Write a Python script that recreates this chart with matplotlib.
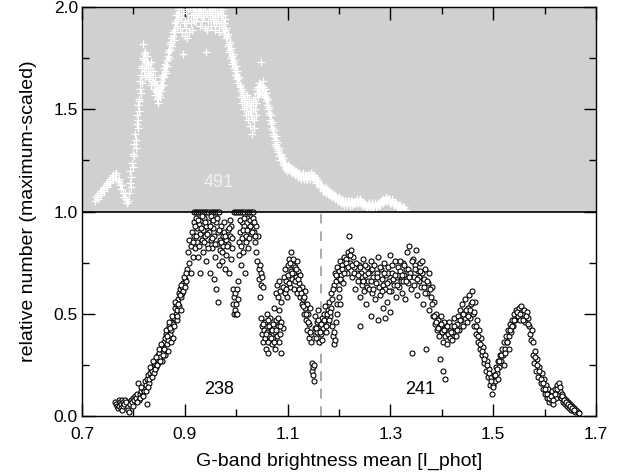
#Two stacked histograms-like point clouds in one frame: upper (shifted by 1) on gray, lower on white
import numpy as np
import matplotlib
matplotlib.use('Agg')
import matplotlib.pyplot as plt

plt.rcParams['font.family'] = ['Liberation Sans', 'DejaVu Sans']

# upper curve (white plus signs, plotted between 1 and 2)
up_bump = [(0.725,1.05),(0.728,1.07),(0.731,1.06),(0.734,1.09),(0.737,1.08),(0.740,1.11),(0.743,1.10),
           (0.746,1.13),(0.749,1.12),(0.752,1.15),(0.755,1.14),(0.758,1.17),(0.761,1.16),(0.764,1.18),
           (0.767,1.16),(0.770,1.15),(0.773,1.13),(0.776,1.11),(0.779,1.09),(0.782,1.07),(0.785,1.06),
           (0.788,1.04),(0.790,1.05)]
up_rise = [(0.791,1.09),(0.793,1.14),(0.794,1.20),(0.796,1.17),(0.797,1.24),(0.799,1.28),(0.800,1.22),
           (0.802,1.33),(0.803,1.38),(0.805,1.35),(0.806,1.43),(0.807,1.47),(0.808,1.41),(0.809,1.52),
           (0.810,1.55),(0.811,1.49),(0.812,1.60),(0.813,1.64),(0.814,1.58)]
up_shoulder = [(0.815,1.67),(0.816,1.63),(0.817,1.71),(0.818,1.75),(0.819,1.82),(0.820,1.69),(0.821,1.77),
               (0.822,1.66),(0.824,1.73),(0.825,1.70),(0.826,1.76),(0.828,1.68),(0.829,1.72),(0.830,1.65),
               (0.832,1.70),(0.833,1.67),(0.835,1.73),(0.836,1.64),(0.838,1.69),(0.839,1.60),(0.841,1.66),
               (0.842,1.57),(0.844,1.62),(0.845,1.55),(0.847,1.58),(0.848,1.53),(0.850,1.60),(0.851,1.56),
               (0.853,1.64),(0.854,1.59),(0.856,1.67),(0.857,1.62),(0.859,1.70),(0.860,1.66),(0.862,1.72),
               (0.863,1.68)]
up_peak = [(0.865,1.74),(0.866,1.71),(0.868,1.78),(0.869,1.75),(0.871,1.82),(0.872,1.79),(0.874,1.85),
           (0.875,1.81),(0.877,1.88),(0.878,1.84),(0.880,1.92),(0.881,1.88),(0.883,1.96),(0.884,1.91),
           (0.886,1.99),(0.887,1.94),(0.889,1.97),(0.890,1.90),(0.892,2.00),(0.893,1.95),(0.895,1.88),
           (0.897,1.77),(0.898,1.92),(0.900,1.86),(0.902,1.98),(0.903,1.90),(0.905,1.85),(0.907,1.94),
           (0.908,1.88),(0.910,2.00),(0.912,1.96),(0.913,1.89),(0.915,1.99),(0.917,1.93),(0.918,2.00),
           (0.920,1.97),(0.922,2.00),(0.924,1.95),(0.925,2.00),(0.927,1.98),(0.929,2.00),(0.931,1.96),
           (0.932,1.99),(0.934,1.93),(0.936,1.98),(0.938,1.95),(0.940,1.90),(0.942,1.78),(0.943,1.97),
           (0.945,1.93),(0.947,2.00),(0.949,1.96),(0.950,1.91),(0.952,1.99),(0.954,1.94),(0.956,2.00),
           (0.958,1.89),(0.959,1.97),(0.961,1.92),(0.963,2.00),(0.965,1.95),(0.967,1.88),(0.968,1.98),
           (0.970,1.93),(0.972,1.99),(0.974,1.90),(0.975,1.96),(0.977,1.87),(0.978,1.94)]
up_fall = [(0.980,1.85),(0.981,1.90),(0.983,1.81),(0.984,1.87),(0.986,1.78),(0.987,1.83),(0.989,1.75),
           (0.990,1.80),(0.992,1.72),(0.993,1.77),(0.995,1.70),(0.996,1.74),(0.998,1.67),(0.999,1.71),
           (1.001,1.65),(1.002,1.69),(1.004,1.63),(1.006,1.66),(1.008,1.61),(1.009,1.56),(1.011,1.60),
           (1.012,1.53),(1.014,1.58),(1.015,1.50),(1.017,1.55),(1.018,1.47),(1.020,1.57),(1.021,1.52),
           (1.023,1.45),(1.024,1.55),(1.026,1.49),(1.027,1.42),(1.029,1.52),(1.030,1.38),(1.031,1.46),
           (1.033,1.54),(1.034,1.41),(1.036,1.50),(1.037,1.56),(1.039,1.47),(1.040,1.58),(1.042,1.61),
           (1.043,1.56),(1.045,1.63),(1.046,1.59),(1.048,1.73),(1.049,1.62),(1.051,1.58),(1.052,1.64),
           (1.054,1.57),(1.055,1.60),(1.057,1.54),(1.058,1.58)]
up_tail = [(1.060,1.52),(1.061,1.55),(1.063,1.48),(1.064,1.51),(1.066,1.45),(1.067,1.47),(1.069,1.41),
           (1.070,1.44),(1.072,1.38),(1.073,1.40),(1.075,1.35),(1.077,1.37),(1.078,1.32),(1.080,1.34),
           (1.082,1.29),(1.083,1.31),(1.085,1.27),(1.087,1.28),(1.089,1.25),(1.091,1.26),(1.093,1.23),
           (1.095,1.24),(1.097,1.22),(1.100,1.21),(1.103,1.22),(1.106,1.20),(1.109,1.21),(1.112,1.19),
           (1.115,1.20),(1.118,1.18),(1.121,1.19),(1.124,1.17),(1.127,1.18),(1.130,1.17),(1.133,1.18),
           (1.136,1.16),(1.139,1.18),(1.142,1.17),(1.145,1.19),(1.148,1.17),(1.151,1.18),(1.154,1.16),
           (1.157,1.16),(1.160,1.14),(1.163,1.13),(1.166,1.12),(1.169,1.11),(1.172,1.12),(1.175,1.10),
           (1.178,1.09),(1.181,1.10),(1.184,1.08),(1.187,1.09),(1.190,1.07),(1.193,1.08),(1.196,1.06),
           (1.199,1.07),(1.202,1.05),(1.205,1.06),(1.208,1.04),(1.211,1.05),(1.214,1.04),(1.217,1.05),
           (1.220,1.04),(1.223,1.05),(1.226,1.03),(1.229,1.04),(1.232,1.05),(1.235,1.04),(1.238,1.05),
           (1.241,1.04),(1.244,1.03),(1.247,1.04),(1.250,1.03),(1.253,1.02),(1.256,1.03),(1.259,1.02),
           (1.262,1.03),(1.265,1.02),(1.268,1.03),(1.271,1.02),(1.274,1.03),(1.277,1.03),(1.280,1.04),
           (1.283,1.05),(1.286,1.04),(1.289,1.06),(1.292,1.05),(1.295,1.06),(1.298,1.05),(1.301,1.04),
           (1.304,1.05),(1.307,1.03),(1.310,1.04),(1.313,1.02),(1.316,1.03),(1.319,1.02),(1.322,1.01),
           (1.325,1.02),(1.328,1.01),(1.331,1.00)]
up_extra = [(0.730,1.08),(0.736,1.10),(0.742,1.12),(0.748,1.14),(0.754,1.16),(0.760,1.18),(0.766,1.19),
            (0.772,1.16),(0.778,1.13),(0.784,1.09),(0.795,1.12),(0.801,1.27),(0.804,1.31),(0.808,1.45),
            (0.811,1.54),(0.816,1.70),(0.820,1.74),(0.823,1.78),(0.827,1.73),(0.831,1.67),(0.834,1.62),
            (0.837,1.66),(0.840,1.63),(0.843,1.59),(0.846,1.62),(0.849,1.57),(0.852,1.61),(0.855,1.62),
            (0.858,1.66),(0.861,1.69),(0.864,1.71),(0.867,1.76),(0.870,1.79),(0.873,1.83),(0.876,1.86),
            (0.879,1.89),(0.882,1.93),(0.885,1.96),(0.888,2.00),(0.896,1.97),(0.901,1.93),(0.906,1.99),
            (0.911,1.92),(0.916,1.96),(0.921,1.93),(0.926,1.97),(0.930,1.91),(0.935,1.96),(0.939,2.00),
            (0.944,1.89),(0.948,1.98),(0.953,1.96),(0.957,1.93),(0.962,1.97),(0.966,1.91),(0.971,1.96),
            (0.976,1.92),(0.979,1.89),(0.982,1.86),(0.985,1.82),(0.988,1.79),(0.991,1.76),(0.994,1.73),
            (0.997,1.69),(1.000,1.67),(1.003,1.66),(1.007,1.62),(1.010,1.59),(1.013,1.57),(1.016,1.54),
            (1.019,1.51),(1.022,1.48),(1.025,1.53),(1.028,1.47),(1.032,1.50),(1.035,1.45),(1.038,1.53),
            (1.041,1.60),(1.044,1.58),(1.047,1.61),(1.050,1.60),(1.053,1.61),(1.056,1.56),(1.059,1.55),
            (1.062,1.50),(1.065,1.47),(1.068,1.43),(1.071,1.40),(1.074,1.37),(1.076,1.33),(1.079,1.31),
            (1.081,1.30),(1.084,1.27),(1.086,1.25),(1.088,1.27),(1.090,1.23),(1.092,1.24),(1.094,1.21),
            (1.098,1.20),(1.101,1.23),(1.105,1.22),(1.108,1.19),(1.111,1.21),(1.114,1.18),(1.117,1.20),
            (1.120,1.17),(1.123,1.19),(1.126,1.16),(1.129,1.19),(1.132,1.16),(1.135,1.18),(1.138,1.16),
            (1.141,1.18),(1.144,1.16),(1.147,1.18),(1.150,1.16),(1.153,1.17),(1.156,1.14),(1.159,1.15),
            (1.162,1.12),(1.165,1.13),(1.168,1.10),(1.171,1.10),(1.174,1.09),(1.177,1.11),(1.180,1.08),
            (1.183,1.09),(1.186,1.07),(1.189,1.08),(1.192,1.06),(1.195,1.07),(1.198,1.05),(1.201,1.06),
            (1.204,1.04),(1.207,1.05),(1.210,1.03),(1.213,1.05),(1.216,1.03),(1.219,1.05),(1.222,1.03),
            (1.225,1.05),(1.228,1.04),(1.231,1.04),(1.234,1.06),(1.237,1.04),(1.240,1.06),(1.243,1.05),
            (1.246,1.03),(1.249,1.04),(1.252,1.03),(1.255,1.02),(1.258,1.04),(1.261,1.02),(1.264,1.04),
            (1.267,1.02),(1.270,1.04),(1.273,1.02),(1.276,1.04),(1.279,1.03),(1.282,1.05),(1.285,1.06),
            (1.288,1.05),(1.291,1.07),(1.294,1.05),(1.297,1.06),(1.300,1.04),(1.303,1.06),(1.306,1.04),
            (1.309,1.03),(1.312,1.03),(1.315,1.02),(1.318,1.03),(1.321,1.02),(1.324,1.01),(1.327,1.02),
            (1.330,1.01)]

# lower curve (open black circles, 0..1, clipped at 1)
low_start = [(0.765,0.07),(0.767,0.06),(0.768,0.05),(0.770,0.04),(0.771,0.08),(0.772,0.05),(0.773,0.07),
             (0.775,0.06),(0.776,0.04),(0.777,0.08),(0.778,0.03),(0.779,0.05),(0.780,0.07),(0.782,0.06),
             (0.784,0.08),(0.786,0.07),(0.789,0.03),(0.791,0.02)]
low_rise = [(0.793,0.06),(0.795,0.08),(0.797,0.07),(0.799,0.09),(0.801,0.08),(0.803,0.10),(0.805,0.09),
            (0.807,0.11),(0.809,0.16),(0.810,0.08),(0.812,0.11),(0.814,0.12),(0.816,0.10),(0.818,0.13),
            (0.820,0.12),(0.822,0.14),(0.823,0.17),(0.825,0.15),(0.826,0.06),(0.827,0.18),(0.829,0.20),
            (0.830,0.16),(0.832,0.21),(0.834,0.19),(0.835,0.23),(0.837,0.22),(0.839,0.25),(0.840,0.21),
            (0.842,0.26),(0.844,0.24),(0.845,0.28),(0.847,0.30),(0.848,0.26),(0.850,0.31),(0.852,0.29),
            (0.853,0.33),(0.855,0.27),(0.856,0.34),(0.858,0.32),(0.859,0.36),(0.861,0.38),(0.862,0.30),
            (0.864,0.40),(0.865,0.35),(0.867,0.42),(0.868,0.32),(0.868,0.37),(0.870,0.44),(0.871,0.40),
            (0.873,0.46),(0.873,0.36),(0.874,0.42),(0.876,0.45),(0.877,0.38),(0.879,0.48),(0.880,0.53),
            (0.882,0.50),(0.883,0.55),(0.885,0.52),(0.885,0.47),(0.886,0.57),(0.888,0.60),(0.889,0.54),
            (0.891,0.62),(0.892,0.58),(0.893,0.52),(0.894,0.63),(0.895,0.60),(0.897,0.65),(0.899,0.64),
            (0.900,0.67),(0.902,0.66)]
low_top = [(0.918,1.0),(0.922,1.0),(0.926,1.0),(0.930,1.0),(0.934,1.0),(0.938,1.0),(0.942,1.0),(0.946,1.0),
           (0.950,1.0),(0.954,1.0),(0.958,1.0),(0.962,1.0),(0.966,1.0),(0.996,1.0),(1.000,1.0),(1.004,1.0),
           (1.008,1.0),(1.012,1.0),(1.016,1.0),(1.020,1.0),(1.024,1.0),(1.028,1.0),(1.032,1.0)]
low_cloud = [(0.905,0.72),(0.906,0.80),(0.908,0.75),(0.909,0.86),(0.911,0.70),(0.912,0.83),(0.914,0.90),
             (0.915,0.78),(0.917,0.95),(0.918,0.88),(0.920,0.82),(0.921,0.97),(0.923,0.92),(0.924,0.85),
             (0.926,0.78),(0.927,0.94),(0.929,0.89),(0.930,0.70),(0.932,0.96),(0.933,0.86),(0.935,0.91),
             (0.936,0.80),(0.938,0.97),(0.939,0.88),(0.941,0.93),(0.942,0.76),(0.944,0.84),(0.945,0.95),
             (0.947,0.90),(0.948,0.70),(0.950,0.86),(0.951,0.98),(0.953,0.82),(0.954,0.92),(0.956,0.67),
             (0.957,0.88),(0.959,0.78),(0.960,0.95),(0.961,0.62),(0.962,0.84),(0.964,0.90),(0.965,0.56),
             (0.966,0.74),(0.968,0.86),(0.969,0.81),(0.971,0.93),(0.972,0.76),(0.974,0.88),(0.975,0.83),
             (0.977,0.90),(0.978,0.72),(0.980,0.86),(0.981,0.79),(0.983,0.91),(0.984,0.84),(0.986,0.70),
             (0.987,0.88),(0.989,0.77),(0.990,0.93),(0.992,0.82),(0.993,0.62),(0.994,0.55),(0.995,0.50),
             (0.996,0.58),(0.997,0.52),(0.998,0.60),(0.999,0.50),(1.000,0.55),(1.001,0.62),(1.002,0.50),
             (1.003,0.57),(1.004,0.66),(1.005,0.85),(1.006,0.79),(1.008,0.90),(1.009,0.74),(1.011,0.95),
             (1.012,0.87),(1.014,0.80),(1.015,0.93),(1.017,0.70),(1.018,0.88),(1.020,0.97),(1.022,0.82),
             (1.024,0.92),(1.026,0.96),(1.028,0.89),(1.030,0.94),(1.032,0.97),(1.034,0.90),(1.036,0.85),
             (1.038,0.93),(1.039,0.80),(1.041,0.76),(1.042,0.88),(1.044,0.72),(1.045,0.67),(1.046,0.74),
             (1.048,0.70),(1.049,0.64),(1.051,0.68),(1.052,0.63)]
low_mid = [(1.047,0.58),(1.048,0.48),(1.050,0.44),(1.051,0.40),(1.052,0.36),(1.054,0.42),(1.055,0.46),
           (1.056,0.38),(1.058,0.33),(1.059,0.41),(1.060,0.50),(1.061,0.36),(1.062,0.31),(1.063,0.44),
           (1.064,0.39),(1.066,0.48),(1.068,0.42),(1.069,0.35),(1.071,0.45),(1.072,0.38),(1.073,0.53),
           (1.075,0.41),(1.076,0.33),(1.077,0.47),(1.079,0.39),(1.081,0.44),(1.083,0.36),(1.084,0.52),
           (1.086,0.40),(1.088,0.31),(1.088,0.46),(1.090,0.43),
           (1.078,0.60),(1.080,0.64),(1.082,0.58),(1.084,0.66),(1.086,0.61),(1.088,0.56),(1.090,0.63),
           (1.092,0.68),(1.094,0.60),(1.095,0.72),(1.097,0.66),(1.098,0.58),(1.100,0.74),(1.101,0.69),
           (1.103,0.77),(1.104,0.63),(1.106,0.71),(1.107,0.80),(1.109,0.67),(1.110,0.74),(1.112,0.70),
           (1.113,0.62),(1.115,0.73),(1.116,0.68),(1.118,0.76),(1.119,0.60),(1.121,0.71),(1.122,0.65),
           (1.124,0.58),(1.125,0.69),(1.127,0.55),(1.128,0.63),(1.130,0.57),(1.131,0.50),(1.133,0.61),
           (1.134,0.53),(1.136,0.47),(1.137,0.55),(1.138,0.42),(1.140,0.50),(1.141,0.38),(1.142,0.45),
           (1.144,0.53),(1.145,0.40),(1.146,0.36),(1.147,0.26),(1.148,0.22),(1.149,0.24),(1.150,0.20),
           (1.151,0.17),(1.152,0.25),(1.153,0.43),(1.154,0.49),(1.155,0.38),(1.157,0.46),(1.158,0.41),
           (1.160,0.52),(1.161,0.36),(1.163,0.44),(1.164,0.40),(1.166,0.48),(1.167,0.37)]
low_right = [(1.169,0.43),(1.170,0.50),(1.172,0.46),(1.173,0.54),(1.175,0.41),(1.176,0.48),(1.178,0.52),
             (1.179,0.45),(1.181,0.56),(1.182,0.49),(1.184,0.53),(1.185,0.60),(1.187,0.44),(1.188,0.39),
             (1.190,0.35),(1.191,0.41),(1.193,0.37),(1.194,0.46),(1.196,0.55),(1.197,0.50),(1.199,0.58),
             (1.200,0.62),(1.202,0.55),(1.203,0.66),
             (1.190,0.64),(1.192,0.70),(1.194,0.66),(1.196,0.73),(1.198,0.68),(1.200,0.71),(1.202,0.76),
             (1.204,0.69),(1.206,0.74),(1.208,0.65),(1.210,0.78),(1.212,0.72),(1.214,0.77),(1.216,0.70),
             (1.218,0.80),(1.220,0.88),(1.222,0.75),(1.224,0.81),(1.226,0.68),(1.228,0.78),(1.230,0.73),
             (1.232,0.62),(1.234,0.70)]
low_plateau = [(1.236,0.66),(1.238,0.74),(1.240,0.58),(1.240,0.44),(1.242,0.70),(1.244,0.64),(1.245,0.68),
               (1.246,0.77),(1.248,0.61),(1.250,0.69),(1.252,0.55),(1.254,0.73),(1.255,0.63),(1.256,0.66),
               (1.258,0.62),(1.260,0.71),(1.262,0.76),(1.262,0.49),(1.264,0.60),(1.265,0.72),(1.266,0.68),
               (1.268,0.74),(1.270,0.57),(1.272,0.65),(1.274,0.70),(1.275,0.47),(1.276,0.78),(1.278,0.63),
               (1.280,0.59),(1.282,0.72),(1.284,0.67),(1.285,0.64),(1.286,0.53),(1.288,0.75),(1.290,0.62),
               (1.290,0.48),(1.292,0.69),(1.294,0.56),(1.295,0.70),(1.296,0.73),(1.298,0.66),(1.300,0.79),
               (1.300,0.51),(1.302,0.61),(1.304,0.70),(1.305,0.67),(1.306,0.64),(1.308,0.76),(1.310,0.58),
               (1.312,0.68),(1.314,0.73),(1.315,0.69),(1.316,0.63),(1.318,0.71),(1.320,0.66),(1.322,0.60),
               (1.324,0.75),(1.325,0.66),(1.326,0.69),(1.328,0.57),(1.330,0.72),(1.332,0.80),(1.334,0.65),
               (1.335,0.72),(1.336,0.83),(1.338,0.70),(1.340,0.62),(1.342,0.31),(1.344,0.77),(1.345,0.64),
               (1.346,0.68),(1.348,0.74),(1.350,0.81),(1.352,0.59),(1.354,0.71),(1.355,0.68),(1.356,0.66),
               (1.358,0.75),(1.360,0.63),(1.362,0.70),(1.364,0.55),(1.365,0.63),(1.366,0.67),(1.368,0.72),
               (1.370,0.33),(1.372,0.60),(1.374,0.65),(1.375,0.70),(1.376,0.52),(1.378,0.58),(1.380,0.63),
               (1.382,0.49),(1.384,0.56)]
low_end = [(1.386,0.45),(1.388,0.50),(1.390,0.42),(1.392,0.47),(1.394,0.39),(1.396,0.44),(1.397,0.28),
           (1.398,0.49),(1.400,0.41),(1.402,0.36),(1.403,0.22),(1.404,0.46),(1.406,0.39),(1.407,0.18),
           (1.408,0.43),(1.410,0.35),(1.412,0.40),(1.414,0.46),(1.416,0.38),(1.418,0.44),(1.420,0.37),
           (1.422,0.41),(1.424,0.48),(1.426,0.43),(1.428,0.39),(1.430,0.45),
           (1.432,0.49),(1.434,0.42),(1.436,0.52),(1.438,0.47),(1.440,0.55),(1.442,0.44),(1.444,0.50),
           (1.446,0.57),(1.448,0.46),(1.450,0.53),(1.452,0.59),(1.454,0.48),(1.456,0.55),(1.458,0.61),
           (1.460,0.50),(1.462,0.44),(1.464,0.56),(1.466,0.40),(1.468,0.47),(1.470,0.36),(1.472,0.42),
           (1.474,0.33),(1.476,0.38),(1.478,0.30),(1.480,0.34),(1.482,0.26),(1.484,0.30),(1.486,0.22),
           (1.488,0.27),(1.490,0.19),(1.492,0.23),(1.494,0.15),(1.496,0.19),(1.497,0.11),(1.499,0.15),
           (1.501,0.20),(1.503,0.17),(1.505,0.24),(1.507,0.21),(1.509,0.27),(1.510,0.18),(1.511,0.24),
           (1.513,0.30),(1.515,0.27),(1.517,0.33),(1.519,0.30),(1.520,0.25),(1.521,0.36),(1.523,0.33),
           (1.525,0.39),(1.527,0.36),(1.529,0.42),(1.530,0.33),(1.531,0.39),(1.533,0.45),(1.535,0.41),
           (1.537,0.47),(1.539,0.44),(1.541,0.50),(1.543,0.47),(1.545,0.52),(1.548,0.49),(1.550,0.53),
           (1.552,0.47),(1.555,0.54),(1.557,0.50),(1.560,0.52),(1.562,0.46),(1.565,0.51),(1.567,0.48),
           (1.570,0.44),(1.572,0.40),(1.574,0.37),(1.576,0.42),(1.578,0.30),(1.580,0.26),(1.582,0.32),
           (1.584,0.22),(1.586,0.28),(1.588,0.19),(1.590,0.24),(1.592,0.16),(1.594,0.21),(1.596,0.13),
           (1.598,0.18),(1.600,0.11),(1.602,0.15),(1.604,0.09),(1.606,0.13),(1.608,0.07),(1.610,0.11),
           (1.612,0.08),(1.614,0.12),(1.616,0.06),(1.618,0.10),(1.620,0.13),(1.622,0.09),(1.624,0.15),
           (1.626,0.11),(1.628,0.16),(1.630,0.12),(1.632,0.09),(1.634,0.11),(1.636,0.07),(1.638,0.09),
           (1.640,0.06),(1.642,0.08),(1.644,0.05),(1.646,0.07),(1.648,0.04),(1.650,0.06),(1.652,0.03),
           (1.654,0.05),(1.656,0.03),(1.658,0.04),(1.660,0.02),(1.662,0.03),(1.664,0.02),(1.666,0.013)]
low_extra = [(0.800,0.05),(0.806,0.07),(0.812,0.09),(0.815,0.14),(0.819,0.10),(0.824,0.12),(0.828,0.14),
             (0.831,0.18),(0.833,0.24),(0.836,0.19),(0.838,0.27),(0.841,0.23),(0.843,0.29),(0.846,0.25),
             (0.849,0.33),(0.851,0.27),(0.854,0.35),(0.857,0.30),(0.860,0.33),(0.863,0.42),(0.866,0.39),
             (0.869,0.46),(0.872,0.43),(0.875,0.49),(0.878,0.44),(0.881,0.56),(0.884,0.49),(0.887,0.55),
             (0.890,0.59),(0.893,0.64),(0.896,0.61),(0.898,0.68),(0.901,0.63),(0.903,0.70),
             (0.916,0.85),(0.919,0.93),(0.922,0.88),(0.925,0.96),(0.928,0.83),(0.931,0.92),(0.934,0.98),
             (0.937,0.85),(0.940,0.95),(0.943,0.89),(0.946,0.82),(0.949,0.93),(0.952,0.87),(0.955,0.96),
             (0.958,0.84),(0.963,0.97),(0.967,0.91),(0.970,0.85),(0.973,0.80),(0.976,0.95),(0.979,0.88),
             (0.982,0.83),(0.985,0.92),(0.988,0.96),(0.991,0.87),(1.007,0.96),(1.010,0.83),(1.013,0.91),
             (1.016,0.97),(1.019,0.85),(1.021,0.91),(1.025,0.87),(1.027,0.93),(1.031,0.90),(1.035,0.95),
             (1.037,0.88),
             (1.053,0.45),(1.057,0.40),(1.062,0.47),(1.067,0.38),(1.070,0.42),(1.074,0.36),(1.078,0.42),
             (1.082,0.48),(1.085,0.44),(1.096,0.62),(1.102,0.65),(1.105,0.75),(1.108,0.70),(1.111,0.77),
             (1.114,0.66),(1.117,0.72),(1.120,0.67),(1.123,0.62),(1.126,0.60),(1.129,0.54),(1.132,0.58),
             (1.135,0.50),(1.139,0.46),(1.143,0.41),(1.156,0.43),(1.159,0.47),(1.162,0.41),(1.165,0.45),
             (1.171,0.47),(1.174,0.44),(1.177,0.50),(1.180,0.47),(1.183,0.51),(1.186,0.57),(1.189,0.62),
             (1.195,0.69),(1.201,0.67),(1.205,0.72),(1.209,0.70),(1.213,0.75),(1.217,0.73),(1.221,0.79),
             (1.225,0.74),(1.229,0.70),(1.233,0.75),(1.237,0.69),(1.241,0.73),(1.247,0.66),(1.251,0.74),
             (1.257,0.70),(1.263,0.66),(1.267,0.62),(1.273,0.68),(1.279,0.73),(1.283,0.61),(1.287,0.70),
             (1.293,0.65),(1.297,0.61),(1.303,0.74),(1.309,0.69),(1.313,0.64),(1.319,0.76),(1.323,0.69),
             (1.327,0.74),(1.331,0.66),(1.337,0.68),(1.341,0.76),(1.347,0.72),(1.351,0.67),(1.357,0.71),
             (1.361,0.76),(1.367,0.60),(1.371,0.66),(1.377,0.62),(1.381,0.55),
             (1.385,0.49),(1.389,0.46),(1.393,0.43),(1.399,0.45),(1.405,0.42),(1.411,0.44),(1.417,0.41),
             (1.423,0.44),(1.429,0.42),(1.435,0.47),(1.441,0.50),(1.447,0.52),(1.451,0.49),(1.455,0.52),
             (1.459,0.56),(1.463,0.51),(1.467,0.44),(1.471,0.39),(1.475,0.35),(1.479,0.32),(1.483,0.28),
             (1.487,0.25),(1.491,0.21),(1.495,0.17),(1.500,0.14),(1.504,0.20),(1.508,0.23),(1.512,0.27),
             (1.516,0.30),(1.522,0.31),(1.526,0.36),(1.532,0.42),(1.536,0.44),(1.540,0.47),(1.547,0.51),
             (1.553,0.50),(1.558,0.47),(1.563,0.49),(1.568,0.45),(1.577,0.36),(1.581,0.29),(1.585,0.25),
             (1.589,0.22),(1.593,0.18),(1.597,0.16),(1.601,0.13),(1.605,0.11),(1.609,0.09),(1.613,0.10),
             (1.617,0.08),(1.621,0.11),(1.625,0.13),(1.629,0.14),(1.633,0.10),(1.637,0.08),(1.641,0.07),
             (1.645,0.06),(1.649,0.05),(1.653,0.04),(1.657,0.03)]

split_x = 1.165   # dashed divider
counts = ['491', '238', '241']

upper = np.array(up_bump + up_rise + up_shoulder + up_peak + up_fall + up_tail + up_extra)
lower = np.array(low_start + low_rise + low_top + low_cloud + low_mid + low_right + low_plateau
                 + low_end + low_extra)

fig = plt.figure(figsize=(6.17, 4.76), dpi=100)
ax = fig.add_axes([0.133, 0.126, 0.833, 0.859])

ax.axhspan(1.0, 2.0, color='#d0d0d0', zorder=0, lw=0)
ax.scatter(upper[:, 0], upper[:, 1], marker='+', s=36, c='white', linewidths=0.9, zorder=2)
ax.scatter(lower[:, 0], lower[:, 1], marker='o', s=13, facecolors='white', edgecolors='black',
           linewidths=0.8, zorder=3)
ax.axhline(1.0, color='black', lw=1.2, zorder=4)
ax.plot([split_x, split_x], [0, 1], ls=(0, (5, 4)), color='#aaaaaa', lw=1.4, zorder=1)

ax.text(0.965, 1.14, counts[0], color='#f0f0f0', fontsize=13, ha='center', va='center')
ax.text(0.967, 0.13, counts[1], color='black', fontsize=13, ha='center', va='center')
ax.text(1.358, 0.13, counts[2], color='black', fontsize=13, ha='center', va='center')

ax.set_xlim(0.7, 1.7)
ax.set_ylim(0.0, 2.0)
ax.set_xticks([0.7, 0.9, 1.1, 1.3, 1.5, 1.7])
ax.set_xticks([0.8, 1.0, 1.2, 1.4, 1.6], minor=True)
ax.set_yticks([0.0, 0.5, 1.0, 1.5, 2.0])
ax.set_yticks([0.25, 0.75, 1.25, 1.75], minor=True)
ax.set_xticklabels(['0.7', '0.9', '1.1', '1.3', '1.5', '1.7'])
ax.set_yticklabels(['0.0', '0.5', '1.0', '1.5', '2.0'])
ax.tick_params(which='both', direction='in', top=True, right=True, labelsize=12.5, width=1.0)
ax.tick_params(which='major', length=9)
ax.tick_params(which='minor', length=5)
ax.tick_params(axis='x', pad=8)
ax.tick_params(axis='y', pad=3)
for s in ax.spines.values():
    s.set_linewidth(1.0)

ax.set_xlabel('G-band brightness mean [I_phot]', fontsize=14, labelpad=8)
ax.set_ylabel('relative number (maximum-scaled)', fontsize=14, labelpad=12)

fig.savefig('out.png', dpi=100)
